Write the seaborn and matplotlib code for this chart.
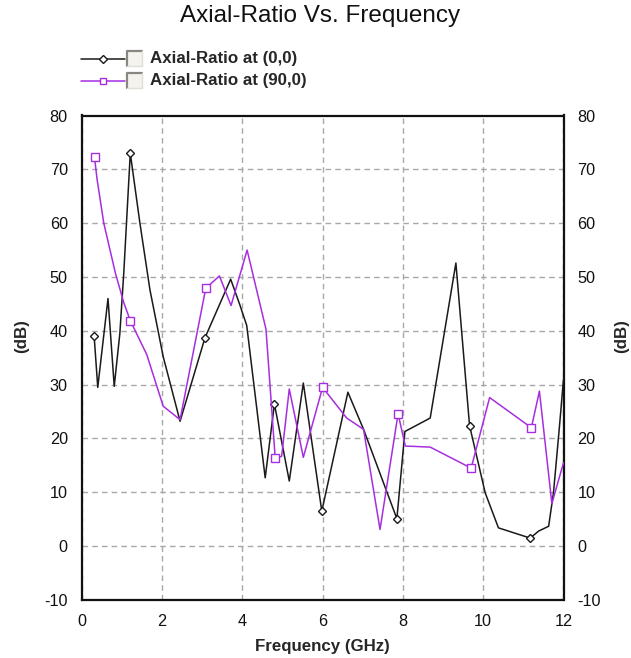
import matplotlib
matplotlib.use("Agg")
import matplotlib.pyplot as plt
from matplotlib.lines import Line2D
from matplotlib.patches import Rectangle
import seaborn as sns
import pandas as pd

# ---- data ----
freq_00 = [0.31, 0.40, 0.655, 0.81, 0.95, 1.05, 1.21, 1.45, 1.70, 2.03, 2.45,
           3.07, 3.71, 3.94, 4.11, 4.57, 4.80, 5.17, 5.52, 5.98, 6.63, 7.02,
           7.85, 8.05, 8.68, 9.32, 9.66, 10.05, 10.38, 11.17, 11.38, 11.63,
           11.75, 11.90, 12.0]
ar_00 = [39.0, 29.5, 46.0, 29.7, 39.5, 51.0, 73.0, 60.0, 47.6, 35.2, 23.2,
         38.7, 49.6, 44.8, 41.0, 12.7, 26.4, 12.1, 30.3, 6.5, 28.6, 21.7,
         5.1, 21.3, 23.8, 52.6, 22.4, 9.9, 3.4, 1.5, 2.8, 3.7,
         9.9, 22.3, 31.0]
marks_00 = [0, 6, 11, 16, 19, 22, 26, 29]

freq_900 = [0.32, 0.38, 0.55, 0.84, 1.05, 1.21, 1.62, 2.03, 2.45, 3.09, 3.43,
            3.72, 4.12, 4.59, 4.82, 4.98, 5.17, 5.52, 6.00, 6.60, 7.02, 7.43,
            7.88, 8.06, 8.68, 9.70, 10.16, 11.20, 11.40, 11.71, 12.0]
ar_900 = [72.2, 68.3, 60.0, 50.7, 45.2, 41.9, 35.6, 26.0, 23.5, 47.9, 50.2,
          44.7, 55.0, 40.3, 16.3, 16.7, 29.2, 16.5, 29.5, 23.8, 21.7, 3.1,
          24.6, 18.6, 18.4, 14.5, 27.6, 22.0, 28.8, 7.9, 15.5]
marks_900 = [0, 5, 9, 14, 18, 22, 25, 27]

series_labels = ["Axial-Ratio at (0,0)", "Axial-Ratio at (90,0)"]
x_ticks = [0, 2, 4, 6, 8, 10, 12]
y_ticks = [-10, 0, 10, 20, 30, 40, 50, 60, 70, 80]
title = "Axial-Ratio Vs. Frequency"
x_label = "Frequency (GHz)"
y_label = "(dB)"

# ---- style ----
sns.set_style("white")
plt.rcParams["font.family"] = ["Liberation Sans", "DejaVu Sans"]
plt.rcParams["axes.unicode_minus"] = False
NARROW = ["Liberation Sans Narrow", "Liberation Sans", "DejaVu Sans"]

W, H = 631, 658
fig = plt.figure(figsize=(W / 100, H / 100), dpi=100)
L, R, T, B = 81.7, 563.5, 115.5, 600.0
ax = fig.add_axes([L / W, 1 - B / H, (R - L) / W, (B - T) / H])

black = "#1a1a1a"
purple = "#a72ee0"

df0 = pd.DataFrame({"f": freq_00, "v": ar_00})
df1 = pd.DataFrame({"f": freq_900, "v": ar_900})

sns.lineplot(data=df0, x="f", y="v", ax=ax, sort=False, color=black,
             linewidth=1.1, marker="D", markersize=4.5, markevery=marks_00,
             markerfacecolor="white", markeredgecolor=black,
             markeredgewidth=1.0, zorder=3)
sns.lineplot(data=df1, x="f", y="v", ax=ax, sort=False, color=purple,
             linewidth=1.1, marker="s", markersize=5.5, markevery=marks_900,
             markerfacecolor="white", markeredgecolor=purple,
             markeredgewidth=1.0, zorder=3)

ax.set_xlim(0, 12)
ax.set_ylim(-10, 80)
ax.set_xticks(x_ticks)
ax.set_yticks(y_ticks)
ax.tick_params(axis="both", length=0, labelsize=11.7, colors="#111111")
ax.tick_params(axis="x", pad=10)
ax.tick_params(axis="y", pad=10, labelright=True, right=False)
for lbl in ax.get_xticklabels() + ax.get_yticklabels():
    lbl.set_family(NARROW)
for t in ax.yaxis.get_major_ticks():
    t.label2.set_family(NARROW)

ax.grid(True, color="#a8a8a8", linestyle=(0, (4, 3)), linewidth=1.0)
for s in ax.spines.values():
    s.set_color("#111111")
    s.set_linewidth(1.6)

ax.set_xlabel(x_label, fontsize=12.2, fontweight="bold")
ax.xaxis.set_label_coords(0.5, -(646 - B) / (B - T), transform=ax.transAxes)
ax.xaxis.label.set_verticalalignment("center")
ax.set_ylabel(y_label, fontsize=12.2, fontweight="bold")
ax.yaxis.set_label_coords((22 - L) / (R - L), (B - 336) / (B - T))
ax.yaxis.label.set_verticalalignment("center")
fig.text(622 / W, 1 - 336 / H, y_label, rotation=90, fontsize=12.2,
         fontweight="bold", ha="center", va="center")

fig.text(320 / W, 1 - 16 / H, title, fontsize=17.5, ha="center", va="center",
         color="#111111")

# ---- legend (drawn as figure artists) ----
rows = [(58.7, black, "D", 4.5), (80.7, purple, "s", 5.0)]
for (yy, col, mk, ms), lab in zip(rows, series_labels):
    yf = 1 - yy / H
    fig.add_artist(Line2D([81 / W, 125 / W], [yf, yf], color=col,
                          linewidth=1.1, transform=fig.transFigure))
    fig.add_artist(Line2D([103 / W], [yf], marker=mk, markersize=ms,
                          markerfacecolor="white", markeredgecolor=col,
                          markeredgewidth=1.0, linestyle="none",
                          transform=fig.transFigure))
    # checkbox
    x0, x1 = 127, 142
    y0, y1 = yy - 7.5, yy + 7.5
    fig.add_artist(Rectangle((x0 / W, 1 - y1 / H), (x1 - x0) / W,
                             (y1 - y0) / H, facecolor="#f4f3ee",
                             edgecolor="none", transform=fig.transFigure))
    fig.add_artist(Line2D([x0 / W, x0 / W, x1 / W], [1 - y1 / H, 1 - y0 / H,
                          1 - y0 / H], color="#8a8780", linewidth=1.6,
                          transform=fig.transFigure))
    fig.add_artist(Line2D([x0 / W, x1 / W, x1 / W], [1 - y1 / H, 1 - y1 / H,
                          1 - y0 / H], color="#e0ded6", linewidth=1.0,
                          transform=fig.transFigure))
    fig.text(150 / W, yf, lab, fontsize=12.2, fontweight="bold",
             ha="left", va="center")

fig.savefig("out.png", dpi=100)
